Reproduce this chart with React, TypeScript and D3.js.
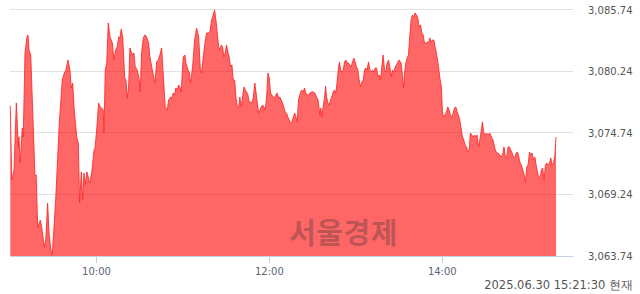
import React from "react";
import * as d3 from "d3";

// minutes after 09:00
const times: number[] = [
  0.2, 1.2, 2.8, 4.4, 5.8, 6.2, 7.1, 8.5, 9.2, 10.4, 11.8, 12.5, 13.2, 14.4, 17.3, 18.2, 19.2, 21.0, 22.0, 23.8,
  24.8, 26.1, 27.1, 28.4, 29.3, 31.7, 34.2, 36.3, 37.7, 38.8, 40.2, 41.6, 42.5, 43.5, 44.6, 46.3, 47.4, 48.3, 49.5, 50.4,
  51.3, 52.2, 53.4, 55.3, 56.7, 58.3, 59.0, 60.3, 61.5, 62.6, 63.6, 64.7, 65.2, 66.1, 67.1, 68.2, 69.4, 71.0, 72.1, 73.3,
  74.4, 75.4, 76.3, 77.2, 78.2, 79.6, 80.5, 81.4, 82.3, 83.2, 84.1, 85.1, 86.0, 86.9, 88.3, 89.7, 90.4, 91.3, 92.5, 93.6,
  94.8, 96.2, 97.1, 98.5, 99.4, 100.6, 101.8, 102.9, 104.0, 105.2, 106.3, 107.7, 109.1, 110.1, 111.5, 112.4, 113.3, 114.2, 115.1, 116.0,
  117.0, 117.9, 118.8, 120.2, 121.4, 122.1, 123.5, 124.4, 125.3, 126.7, 128.1, 129.5, 130.9, 131.3, 132.1, 132.9, 134.1, 135.3, 136.4, 137.5,
  138.7, 139.9, 141.0, 142.0, 142.9, 143.8, 144.8, 145.7, 146.6, 147.5, 148.4, 149.3, 150.3, 151.2, 152.1, 153.1, 154.0, 154.9, 155.9, 156.8,
  157.7, 158.6, 159.5, 160.4, 161.4, 162.3, 163.2, 164.2, 165.1, 166.0, 167.0, 167.9, 168.8, 169.9, 171.1, 172.5, 173.4, 174.3, 175.3, 176.2,
  177.1, 178.1, 179.0, 179.9, 180.8, 181.7, 182.6, 183.6, 184.5, 185.4, 186.4, 187.3, 188.2, 189.1, 190.0, 190.9, 191.9, 192.8, 193.7, 194.7,
  195.6, 196.5, 197.5, 198.4, 199.3, 200.2, 201.1, 202.3, 203.4, 204.4, 205.3, 206.2, 207.2, 208.1, 209.3, 210.4, 211.5, 212.7, 213.8, 215.0,
  215.7, 216.4, 217.3, 218.3, 219.0, 219.7, 220.6, 221.5, 222.4, 223.3, 224.3, 225.2, 226.1, 227.0, 228.0, 228.7, 229.4, 230.3, 231.2, 232.2,
  233.1, 234.0, 234.9, 235.8, 236.7, 237.7, 238.6, 239.5, 240.5, 241.4, 242.3, 243.3, 244.2, 245.1, 246.0, 246.9, 247.8, 248.8, 249.7, 250.6,
  251.6, 252.5, 253.4, 254.4, 255.3, 256.2, 257.1, 258.0, 258.9, 259.9, 260.8, 261.7, 262.7, 263.6, 264.5, 265.4, 266.4, 267.3, 268.2, 269.1,
  270.0, 271.4, 272.4, 273.1, 273.8, 274.7, 275.6, 276.5, 277.4, 278.3, 279.3, 280.2, 281.1, 282.1, 283.0, 283.9, 284.9, 285.8, 286.7, 287.6,
  288.5, 289.4, 290.4, 291.3, 292.2, 293.2, 294.1, 295.0, 295.9, 296.9, 297.8, 298.7, 299.4, 300.1, 301.0, 301.9, 302.9, 303.8, 304.7, 305.7,
  306.6, 307.5, 308.5, 309.4, 310.3, 311.2, 312.1, 313.0, 314.0, 314.9, 315.8, 316.8, 317.7, 318.6, 319.5, 320.4, 321.3, 322.3, 323.2, 324.1,
  325.1, 326.0, 326.9, 327.8, 328.8, 329.7, 330.6, 331.8, 332.9, 334.1, 335.2, 336.4, 337.6, 338.7, 339.9, 341.0, 342.1, 342.8, 343.8, 344.7,
  345.6, 346.6, 347.5, 348.4, 349.4, 350.3, 351.2, 352.2, 353.1, 354.0, 354.9, 355.8, 356.8, 357.7, 358.6, 359.5, 360.5, 361.4, 362.3, 363.2,
  364.2, 365.1, 366.1, 367.0, 367.8, 368.8, 369.7, 370.6, 371.6, 372.5, 373.4, 374.4, 375.3, 376.2, 377.1, 378.0, 378.9,
];

const prices: number[] = [
  3077.13, 3070.52, 3071.42, 3077.40, 3073.47, 3074.36, 3072.04, 3075.17, 3074.36, 3081.86, 3083.29, 3083.47, 3082.13, 3081.68, 3070.97, 3070.97, 3066.24, 3066.95, 3066.33, 3064.55,
  3065.17, 3068.47, 3065.79, 3064.28, 3063.83, 3068.74, 3075.61, 3079.45, 3080.07, 3080.34, 3081.23, 3080.34, 3078.74, 3079.18, 3076.77, 3074.36, 3073.83, 3068.47, 3071.24, 3068.74,
  3071.15, 3070.08, 3071.24, 3070.26, 3071.15, 3073.20, 3073.38, 3075.26, 3077.40, 3077.04, 3076.95, 3076.77, 3074.72, 3080.34, 3080.97, 3084.54, 3083.29, 3082.75, 3081.23, 3082.13,
  3082.40, 3083.29, 3083.20, 3084.00, 3083.29, 3079.63, 3079.45, 3077.84, 3078.83, 3082.31, 3081.95, 3081.68, 3081.86, 3080.61, 3080.34, 3079.45, 3078.38, 3081.86, 3083.20, 3083.47,
  3083.29, 3082.75, 3081.50, 3080.52, 3079.90, 3079.18, 3081.06, 3081.23, 3081.68, 3082.31, 3080.07, 3077.04, 3076.77, 3077.66, 3077.93, 3077.84, 3078.29, 3078.11, 3078.74, 3078.56,
  3079.00, 3078.83, 3078.38, 3081.50, 3081.68, 3080.97, 3080.34, 3080.16, 3079.18, 3080.61, 3083.02, 3084.09, 3083.29, 3082.40, 3080.34, 3080.07, 3081.50, 3082.75, 3083.64, 3083.64,
  3083.73, 3084.80, 3085.25, 3085.70, 3084.80, 3083.64, 3082.40, 3082.13, 3082.57, 3082.40, 3081.50, 3081.86, 3082.57, 3081.95, 3081.50, 3080.61, 3080.79, 3079.45, 3079.45, 3077.93,
  3077.04, 3076.95, 3077.93, 3077.04, 3077.93, 3078.83, 3078.56, 3078.38, 3078.11, 3077.49, 3077.49, 3077.40, 3077.84, 3079.18, 3077.93, 3076.50, 3076.77, 3077.04, 3077.22, 3077.04,
  3076.77, 3077.93, 3080.07, 3079.63, 3078.29, 3078.11, 3077.93, 3077.84, 3078.11, 3078.29, 3077.84, 3077.93, 3077.66, 3077.40, 3077.04, 3076.59, 3076.50, 3076.15, 3075.88, 3075.61,
  3075.70, 3076.06, 3076.50, 3076.15, 3075.70, 3077.66, 3078.11, 3078.56, 3078.38, 3078.74, 3078.29, 3078.11, 3078.11, 3078.29, 3078.38, 3078.38, 3078.29, 3077.93, 3077.66, 3076.33,
  3076.95, 3076.15, 3077.04, 3077.93, 3078.91, 3077.93, 3077.40, 3077.22, 3077.66, 3077.93, 3078.38, 3078.56, 3078.29, 3079.27, 3080.61, 3081.06, 3080.34, 3080.16, 3080.34, 3081.06,
  3081.23, 3080.97, 3080.97, 3080.79, 3080.61, 3081.06, 3081.41, 3081.06, 3080.61, 3080.34, 3079.45, 3078.83, 3079.27, 3079.45, 3080.34, 3080.52, 3080.34, 3081.06, 3080.34, 3080.16,
  3080.34, 3080.16, 3080.52, 3080.52, 3079.72, 3079.90, 3079.45, 3080.61, 3081.68, 3080.34, 3080.16, 3080.97, 3081.23, 3080.61, 3079.72, 3080.34, 3080.16, 3080.61, 3080.79, 3081.06,
  3081.23, 3080.97, 3079.72, 3078.74, 3080.07, 3080.97, 3081.41, 3081.68, 3083.29, 3084.80, 3085.25, 3085.07, 3085.43, 3085.25, 3084.98, 3084.18, 3084.36, 3083.64, 3083.47, 3082.75,
  3082.75, 3082.84, 3082.75, 3083.20, 3082.84, 3083.02, 3083.02, 3082.40, 3081.86, 3081.06, 3080.16, 3079.27, 3078.83, 3076.50, 3076.15, 3076.33, 3076.59, 3077.04, 3076.77, 3076.33,
  3076.06, 3076.50, 3076.95, 3077.04, 3076.59, 3076.33, 3075.88, 3075.17, 3074.36, 3074.09, 3073.65, 3073.47, 3073.02, 3073.20, 3074.72, 3074.54, 3074.36, 3074.54, 3074.36, 3074.54,
  3073.47, 3074.09, 3074.81, 3075.70, 3074.72, 3074.54, 3074.72, 3074.54, 3074.72, 3074.36, 3074.09, 3073.38, 3072.93, 3072.93, 3072.76, 3072.58, 3072.93, 3073.47, 3072.49, 3072.58,
  3073.47, 3073.47, 3073.20, 3072.93, 3072.58, 3072.49, 3072.93, 3073.02, 3072.58, 3072.04, 3071.86, 3071.42, 3070.97, 3070.35, 3071.69, 3071.86, 3073.02, 3072.76, 3072.93, 3072.31,
  3072.58, 3071.86, 3071.15, 3070.79, 3070.70, 3071.42, 3071.60, 3070.52, 3071.86, 3072.04, 3071.86, 3072.04, 3072.49, 3071.86, 3072.04, 3072.58, 3074.36,
];

const yTicks: number[] = [3063.74, 3069.24, 3074.74, 3080.24, 3085.74];
const xTickMinutes: number[] = [60, 180, 300];
const xTickLabels: string[] = ["10:00", "12:00", "14:00"];
const timestamp = "2025.06.30 15:21:30 현재";
const watermark = "서울경제";

const W = 640;
const H = 294;
const left = 10;
const right = 572;
const top = 9.5;
const bottom = 256;

export default function App() {
  const x = d3.scaleLinear().domain([0, 390]).range([left, right]);
  const y = d3.scaleLinear().domain([yTicks[0], yTicks[yTicks.length - 1]]).range([bottom, top]);
  const data = times.map((t, i) => ({ t, v: prices[i] }));
  const area = d3
    .area<{ t: number; v: number }>()
    .x((d) => x(d.t))
    .y0(y(yTicks[0]))
    .y1((d) => y(d.v));
  const line = d3
    .line<{ t: number; v: number }>()
    .x((d) => x(d.t))
    .y((d) => y(d.v));
  const fmt = d3.format(",.2f");
  const font = "'DejaVu Sans', Verdana, sans-serif";
  const crisp = (v: number) => Math.floor(v) + 0.5;

  return (
    <div style={{ position: "fixed", left: 0, top: 0, width: W, height: H, background: "#fff" }}>
      <svg width={W} height={H} style={{ display: "block" }}>
        {yTicks.map((t) => (
          <line key={t} x1={left} x2={right + 1} y1={crisp(y(t))} y2={crisp(y(t))} stroke="#e1e1e1" strokeWidth={1} />
        ))}
        <path d={area(data) || ""} fill="rgba(255,0,0,0.6)" />
        <path d={line(data) || ""} fill="none" stroke="rgba(255,40,40,0.85)" strokeWidth={1} strokeLinejoin="round" />
        <text
          x={343.5}
          y={244}
          textAnchor="middle"
          fontFamily="'Noto Sans CJK KR', sans-serif"
          fontWeight={700}
          fontSize={29}
          letterSpacing={0.5}
          fill="rgba(48,48,48,0.31)"
        >
          {watermark}
        </text>
        <line x1={left} x2={right + 1} y1={crisp(bottom)} y2={crisp(bottom)} stroke="#c5d3ea" strokeWidth={1} />
        {xTickMinutes.map((m, i) => (
          <g key={m}>
            <line x1={crisp(x(m))} x2={crisp(x(m))} y1={bottom} y2={bottom + 7} stroke="#c5d3ea" strokeWidth={1} />
            <text x={x(m)} y={274.5} textAnchor="middle" fontFamily={font} fontSize={10} fill="#5a6474">
              {xTickLabels[i]}
            </text>
          </g>
        ))}
        {yTicks.map((t) => (
          <text key={t} x={588} y={y(t) + 4} fontFamily={font} fontSize={10} fill="#555">
            {fmt(t)}
          </text>
        ))}
        <text x={633} y={289} textAnchor="end" fontFamily={font} fontSize={11.5} fill="#555">
          {timestamp}
        </text>
      </svg>
    </div>
  );
}
